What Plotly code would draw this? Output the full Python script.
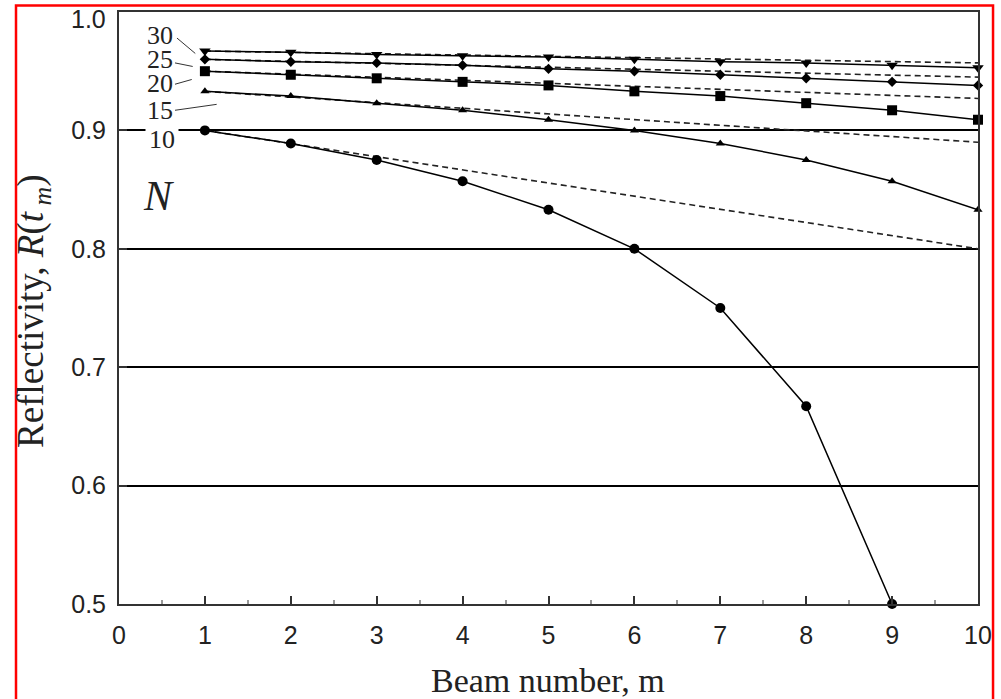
import plotly.graph_objects as go

# ---------------- data ----------------
beam = [1, 2, 3, 4, 5, 6, 7, 8, 9, 10]
beam_n10 = [1, 2, 3, 4, 5, 6, 7, 8, 9]

r_n10 = [0.900, 0.889, 0.875, 0.857, 0.833, 0.800, 0.750, 0.667, 0.500]
r_n15 = [0.933, 0.929, 0.923, 0.917, 0.909, 0.900, 0.889, 0.875, 0.857, 0.833]
r_n20 = [0.950, 0.947, 0.944, 0.941, 0.938, 0.933, 0.929, 0.923, 0.917, 0.909]
r_n25 = [0.960, 0.958, 0.957, 0.955, 0.952, 0.950, 0.947, 0.944, 0.941, 0.938]
r_n30 = [0.967, 0.966, 0.964, 0.963, 0.962, 0.960, 0.958, 0.957, 0.955, 0.953]

dash_x = [1, 10]
d_n10 = [0.900, 0.800]
d_n15 = [0.933, 0.890]
d_n20 = [0.950, 0.927]
d_n25 = [0.960, 0.945]
d_n30 = [0.967, 0.957]

n_labels = ["30", "25", "20", "15", "10"]
y_ticks = [0.5, 0.6, 0.7, 0.8, 0.9, 1.0]
y_ticktext = ["0.5", "0.6", "0.7", "0.8", "0.9", "1.0"]
x_ticks = [0, 1, 2, 3, 4, 5, 6, 7, 8, 9, 10]

# ---------------- figure ----------------
fig = go.Figure()

for dy in [d_n10, d_n15, d_n20, d_n25, d_n30]:
    fig.add_trace(go.Scatter(x=dash_x, y=dy, mode="lines",
                             line=dict(color="#222", width=1.6, dash="6px,4px"),
                             hoverinfo="skip", cliponaxis=False))

series = [
    (beam_n10, r_n10, "circle", 10),
    (beam, r_n15, "triangle-up", 8),
    (beam, r_n20, "square", 10),
    (beam, r_n25, "diamond", 8),
    (beam, r_n30, "triangle-down", 10),
]
for xs, ys, sym, sz in series:
    fig.add_trace(go.Scatter(x=xs, y=ys, mode="lines+markers",
                             line=dict(color="black", width=1.5),
                             marker=dict(symbol=sym, size=sz, color="black"),
                             cliponaxis=False))

serif = "Liberation Serif, Times New Roman, serif"
sans = "Liberation Sans, Arial, sans-serif"

ann = []
label_pos = [(0.477, 0.980), (0.477, 0.960), (0.477, 0.940), (0.477, 0.917), (0.500, 0.892)]
for lab, (lx, ly) in zip(n_labels, label_pos):
    a = dict(x=lx, y=ly, xref="x", yref="y", text=lab, showarrow=False,
             font=dict(family=serif, size=26, color="#222"))
    if lab == "10":
        a.update(bgcolor="white", borderpad=3)
    ann.append(a)

ann.append(dict(x=0.454, y=0.845, xref="x", yref="y", text="<i>N</i>", showarrow=False,
                font=dict(family=serif, size=42, color="#222")))
ann.append(dict(x=0.4994, y=-0.1300, xref="paper", yref="paper", text="Beam number, m",
                showarrow=False, xanchor="center", yanchor="middle",
                font=dict(family=serif, size=34, color="#222")))
ann.append(dict(x=-0.0990, y=0.495, xref="paper", yref="paper",
                text="Reflectivity, <i>R</i>(<i>t</i><sub> <i>m</i></sub>)",
                showarrow=False, textangle=-90, xanchor="center", yanchor="middle",
                font=dict(family=serif, size=37, color="#222")))
# top tick label drawn slightly lower, as in the original, so it is not cut by the page edge
ann.append(dict(x=-0.0128, y=0.989, xref="paper", yref="paper", text=y_ticktext[-1],
                showarrow=False, xanchor="right", yanchor="middle",
                font=dict(family=sans, size=25, color="#222")))

shapes = []
leaders = [
    ((0.675, 0.978), (0.888, 0.965)),
    ((0.652, 0.957), (0.858, 0.954)),
    ((0.652, 0.939), (0.847, 0.943)),
    ((0.652, 0.917), (1.137, 0.922)),
]
for (x0, y0), (x1, y1) in leaders:
    shapes.append(dict(type="line", xref="x", yref="y", x0=x0, y0=y0, x1=x1, y1=y1,
                       line=dict(color="#333", width=1)))
# red frame around the picture
shapes.append(dict(type="rect", xref="paper", yref="paper",
                   x0=-0.1199, x1=1.0175, y0=-0.2, y1=1.0110,
                   line=dict(color="red", width=2.5), layer="above"))

fig.update_layout(
    width=1001, height=699,
    margin=dict(l=119, r=23, t=12, b=95),
    paper_bgcolor="white", plot_bgcolor="white",
    showlegend=False,
    annotations=ann, shapes=shapes,
    xaxis=dict(range=[0, 10], tickvals=x_ticks, ticks="inside", ticklen=8, tickwidth=1.5,
               tickcolor="#333", showline=True, linecolor="#333", linewidth=2, mirror=True,
               showgrid=False, zeroline=False, ticklabelstandoff=8, ticklabeloverflow="allow",
               automargin=False,
               minor=dict(dtick=0.5, ticks="inside", ticklen=4, tickcolor="#999", showgrid=False),
               tickfont=dict(family=sans, size=25, color="#222")),
    yaxis=dict(range=[0.5, 1.0], tickvals=y_ticks[:-1], ticktext=y_ticktext[:-1], ticks="inside",
               ticklen=8, tickwidth=1.5, tickcolor="#333",
               showline=True, linecolor="#333", linewidth=2, mirror=True,
               showgrid=True, gridcolor="black", gridwidth=1.5, zeroline=False,
               ticklabelstandoff=6, ticklabeloverflow="allow", automargin=False,
               tickfont=dict(family=sans, size=25, color="#222")),
)

fig.write_html("out.html")
